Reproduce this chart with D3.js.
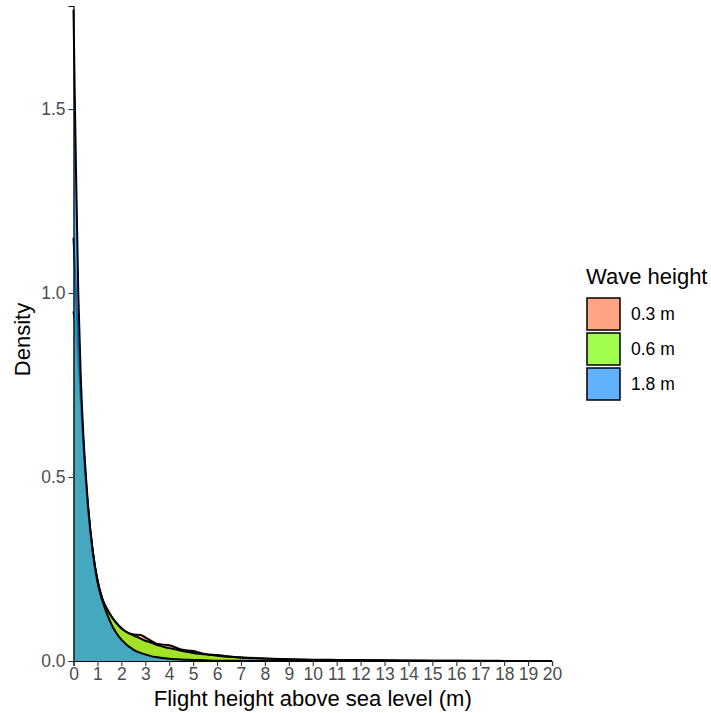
<!DOCTYPE html>
<html lang="en">
<head>
<meta charset="UTF-8">
<title>Flight height density by wave height</title>
<script src="https://d3js.org/d3.v7.min.js"></script>
<style>
  body { margin: 0; background: #fff; font-family: 'Liberation Sans', Arial, sans-serif; }
  .tick text { fill: #4d4d4d; font-size: 17.5px; font-family: 'Liberation Sans', Arial, sans-serif; }
  .tick line { stroke: #333; stroke-width: 1.1; }
  .domain { stroke: #000; }
</style>
</head>
<body>
<div id="chart"></div>
<script>
// density estimates, x in metres
const waveGroups = ["0.3 m", "0.6 m", "1.8 m"];
const groupColors = ["#ff7f50", "#7cfc00", "#1e90ff"];

const xLow = [0, 0.05, 0.1, 0.2, 0.3, 0.4, 0.5, 0.6, 0.8, 1.0, 1.2, 1.5, 1.75, 2, 2.5, 2.8, 3, 3.2, 3.5, 4, 4.5, 5, 5.5, 6, 7, 8, 9, 10, 11, 12, 13, 14, 15, 16, 17, 18, 19, 20];
const dens03 = [0.95, 0.92, 0.88, 0.8, 0.7, 0.6, 0.5, 0.42, 0.3, 0.22, 0.17, 0.13, 0.107, 0.09, 0.072, 0.071, 0.064, 0.057, 0.046, 0.043, 0.031, 0.027, 0.019, 0.016, 0.01, 0.007, 0.005, 0.0035, 0.003, 0.0027, 0.002, 0.0015, 0.001, 0.0008, 0.0005, 0.0003, 0.0002, 0];
const dens06 = [1.15, 1.08, 1.0, 0.85, 0.72, 0.6, 0.5, 0.42, 0.3, 0.22, 0.17, 0.13, 0.106, 0.088, 0.07, 0.061, 0.055, 0.051, 0.043, 0.035, 0.028, 0.022, 0.018, 0.014, 0.009, 0.006, 0.004, 0.003, 0.0025, 0.002, 0.0015, 0.001, 0.0008, 0.0005, 0.0003, 0.0002, 0.0001, 0];
const dens18 = [1.77, 1.55, 1.35, 1.0, 0.78, 0.63, 0.52, 0.43, 0.3, 0.215, 0.165, 0.112, 0.08, 0.058, 0.031, 0.022, 0.018, 0.014, 0.01, 0.006, 0.004, 0.003, 0.002, 0.001, 0.0005, 0.0002, 0.0001, 0, 0, 0, 0, 0, 0, 0, 0, 0, 0, 0];
const densities = [dens03, dens06, dens18];

const xTicks = d3.range(0, 21);
const yTicks = [0, 0.5, 1.0, 1.5];

const W = 711, H = 713;
const plot = { left: 73.5, right: 552, top: 6, bottom: 661 };

const svg = d3.select("#chart").append("svg")
  .attr("width", W).attr("height", H);

const x = d3.scaleLinear().domain([0, 20]).range([plot.left, plot.right]);
const y = d3.scaleLinear().domain([0, 1.78]).range([plot.bottom, plot.top]);

const area = d3.area()
  .x(d => x(d[0])).y0(y(0)).y1(d => y(d[1]))
  .curve(d3.curveMonotoneX);
const line = d3.line()
  .x(d => x(d[0])).y(d => y(d[1]))
  .curve(d3.curveMonotoneX);

waveGroups.forEach((g, i) => {
  const pts = xLow.map((v, j) => [v, densities[i][j]]);
  svg.append("path").datum(pts)
    .attr("d", area)
    .attr("fill", groupColors[i])
    .attr("fill-opacity", 0.7);
  svg.append("path").datum(pts)
    .attr("d", line)
    .attr("fill", "none")
    .attr("stroke", "#000")
    .attr("stroke-width", 2)
    .attr("stroke-linejoin", "round");
});

// axes
svg.append("g")
  .attr("transform", `translate(0,${plot.bottom})`)
  .call(d3.axisBottom(x).tickValues(xTicks).tickSize(5).tickPadding(2).tickFormat(d3.format("d")))
  .call(g => g.select(".domain").attr("stroke-width", 1.2));

svg.append("g")
  .attr("transform", `translate(${plot.left},0)`)
  .call(d3.axisLeft(y).tickValues(yTicks).tickSize(5).tickPadding(3).tickFormat(d3.format(".1f")))
  .call(g => g.select(".domain").attr("stroke-width", 1.2));

// axis titles
svg.append("text")
  .attr("x", (plot.left + plot.right) / 2).attr("y", 706)
  .attr("text-anchor", "middle")
  .attr("font-size", 22).attr("fill", "#000")
  .text("Flight height above sea level (m)");

svg.append("text")
  .attr("transform", `translate(30,${(plot.top + plot.bottom) / 2 + 6}) rotate(-90)`)
  .attr("text-anchor", "middle")
  .attr("font-size", 22).attr("fill", "#000")
  .text("Density");

// legend
const legend = svg.append("g").attr("transform", "translate(586,0)");
legend.append("text")
  .attr("x", 0).attr("y", 284)
  .attr("font-size", 22).attr("fill", "#000")
  .text("Wave height");

waveGroups.forEach((g, i) => {
  const top = 298 + i * 35;
  legend.append("rect")
    .attr("x", 1).attr("y", top)
    .attr("width", 33).attr("height", 32)
    .attr("fill", groupColors[i]).attr("fill-opacity", 0.7)
    .attr("stroke", "#000").attr("stroke-width", 1.5);
  legend.append("text")
    .attr("x", 45).attr("y", top + 22)
    .attr("font-size", 17.5).attr("fill", "#000")
    .text(g);
});
</script>
</body>
</html>
